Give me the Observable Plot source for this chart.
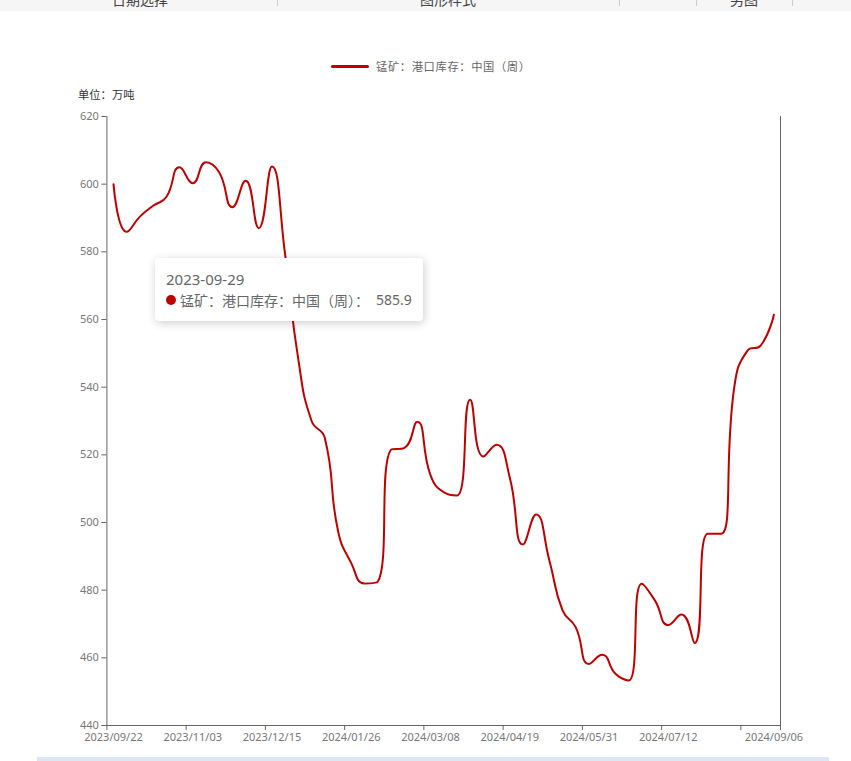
<!DOCTYPE html>
<html>
<head>
<meta charset="utf-8">
<script src="https://cdn.jsdelivr.net/npm/d3@7"></script>
<script src="https://cdn.jsdelivr.net/npm/@observablehq/plot@0.6"></script>
<style>
  html, body { margin: 0; padding: 0; background: #fff; }
  #page { position: relative; width: 851px; height: 761px; overflow: hidden; font-family: "Noto Sans", "Noto Sans CJK SC", sans-serif; }
  #topbar { position: absolute; left: 0; top: 0; width: 851px; height: 10.5px; background: #f6f6f6; overflow: hidden; }
  .tab { position: absolute; top: -11px; font-size: 14px; color: #444; font-family: "Noto Sans CJK SC", sans-serif; white-space: nowrap; }
  .sep { position: absolute; top: 0; width: 1px; height: 6px; background: #c9ccd3; }
  #legend { position: absolute; top: 58px; left: 331px; height: 16px; display: flex; align-items: center; }
  #legend .icon { width: 38px; height: 3px; background: #c00000; border-radius: 2px; margin-right: 7px; }
  #legend .txt { font-size: 11.3px; letter-spacing: 0.6px; color: #666; font-family: "Noto Sans CJK SC", sans-serif; white-space: nowrap; }
  #unit { position: absolute; left: 78px; top: 86px; font-size: 11.3px; color: #333; font-family: "Noto Sans CJK SC", sans-serif; }
  #chart { position: absolute; left: 0; top: 100px; }
  #tooltip { position: absolute; left: 155px; top: 258px; width: 268px; height: 63px; background: #fff; border-radius: 4px; box-shadow: rgba(0,0,0,0.2) 1px 2px 10px; }
  #tooltip .title { position: absolute; left: 11px; top: 11px; font-size: 15px; color: #666; line-height: 20px; font-family: "Noto Sans", sans-serif; }
  #tooltip .row { position: absolute; left: 11px; top: 32px; font-size: 14px; color: #666; line-height: 20px; white-space: nowrap; display: flex; align-items: center; font-family: "Noto Sans CJK SC", sans-serif; }
  #tooltip .dot { width: 10px; height: 10px; border-radius: 5px; background: #c00000; margin-right: 4px; }
  #tooltip .val { margin-left: 7px; font-family: "Noto Sans", sans-serif; }
  #bottombar { position: absolute; left: 37px; top: 757px; width: 792px; height: 8px; background: #dfe6f3; }
</style>
</head>
<body>
<div id="page">
  <div id="topbar">
    <span class="tab" style="left:112px">日期选择</span>
    <div class="sep" style="left:277px"></div>
    <span class="tab" style="left:420px">图形样式</span>
    <div class="sep" style="left:619px"></div>
    <div class="sep" style="left:696px"></div>
    <span class="tab" style="left:730px">另图</span>
    <div class="sep" style="left:792px"></div>
  </div>
  <div id="legend"><div class="icon"></div><span class="txt" id="legendText"></span></div>
  <div id="unit">单位：万吨</div>
  <div id="chart"></div>
  <div id="tooltip"><div class="title" id="ttTitle"></div><div class="row"><div class="dot"></div><span id="ttText"></span><span class="val" id="ttVal"></span></div></div>
  <div id="bottombar"></div>
</div>
<script>
// ---- data ----
const seriesName = "锰矿：港口库存：中国（周）";
const dates = [
  "2023/09/22","2023/09/29","2023/10/06","2023/10/13","2023/10/20","2023/10/27",
  "2023/11/03","2023/11/10","2023/11/17","2023/11/24","2023/12/01","2023/12/08",
  "2023/12/15","2023/12/22","2023/12/29","2024/01/05","2024/01/12","2024/01/19",
  "2024/01/26","2024/02/02","2024/02/09","2024/02/16","2024/02/23","2024/03/01",
  "2024/03/08","2024/03/15","2024/03/22","2024/03/29","2024/04/05","2024/04/12",
  "2024/04/19","2024/04/26","2024/05/03","2024/05/10","2024/05/17","2024/05/24",
  "2024/05/31","2024/06/07","2024/06/14","2024/06/21","2024/06/28","2024/07/05",
  "2024/07/12","2024/07/19","2024/07/26","2024/08/02","2024/08/09","2024/08/16",
  "2024/08/23","2024/08/30","2024/09/06"
];
const values = [
  600.0, 585.9, 590.4, 593.6, 596.2, 605.0,
  600.3, 606.5, 603.5, 593.2, 601.0, 587.0,
  605.2, 579.0, 548.0, 530.0, 525.0, 497.5,
  488.0, 482.0, 482.5, 521.5, 522.0, 529.8,
  514.0, 509.0, 508.0, 536.3, 519.5, 523.0,
  513.3, 493.5, 502.4, 488.8, 474.0, 469.0,
  458.2, 460.9, 455.3, 453.3, 481.9, 476.9,
  469.7, 472.8, 464.4, 496.7, 496.7, 540.0,
  550.8, 552.3, 561.4
];
const xLabelDates = ["2023/09/22","2023/11/03","2023/12/15","2024/01/26","2024/03/08","2024/04/19","2024/05/31","2024/07/12","2024/09/06"];
const xTickDates = ["2023/09/22","2023/11/03","2023/12/15","2024/01/26","2024/03/08","2024/04/19","2024/05/31","2024/07/12","2024/08/23"];
const yTicks = [440, 460, 480, 500, 520, 540, 560, 580, 600, 620];
const tooltipIndex = 1;

// ---- echarts-like smooth curve (smooth = 0.5) ----
function EchartsSmooth(context) { this._context = context; }
EchartsSmooth.prototype = {
  areaStart() {}, areaEnd() {},
  lineStart() { this._xs = []; this._ys = []; },
  point(x, y) { this._xs.push(+x); this._ys.push(+y); },
  lineEnd() {
    const xs = this._xs, ys = this._ys, n = xs.length, ctx = this._context, smooth = 0.5;
    const mn = Math.min, mx = Math.max;
    let prevX, prevY, cpx0, cpy0, cpx1, cpy1;
    for (let i = 0; i < n; i++) {
      const x = xs[i], y = ys[i];
      if (i === 0) { ctx.moveTo(x, y); cpx0 = x; cpy0 = y; }
      else {
        let nextCpx0, nextCpy0;
        if (i === n - 1) { cpx1 = x; cpy1 = y; }
        else {
          const nextX = xs[i + 1], nextY = ys[i + 1];
          let vx = nextX - prevX, vy = nextY - prevY;
          const dx0 = x - prevX, dx1 = nextX - x, dy0 = y - prevY, dy1 = nextY - y;
          const lenPrev = Math.sqrt(dx0 * dx0 + dy0 * dy0);
          const lenNext = Math.sqrt(dx1 * dx1 + dy1 * dy1);
          const ratio = lenNext / (lenNext + lenPrev);
          cpx1 = x - vx * smooth * (1 - ratio);
          cpy1 = y - vy * smooth * (1 - ratio);
          nextCpx0 = x + vx * smooth * ratio;
          nextCpy0 = y + vy * smooth * ratio;
          nextCpx0 = mn(nextCpx0, mx(nextX, x));
          nextCpy0 = mn(nextCpy0, mx(nextY, y));
          nextCpx0 = mx(nextCpx0, mn(nextX, x));
          nextCpy0 = mx(nextCpy0, mn(nextY, y));
          vx = nextCpx0 - x; vy = nextCpy0 - y;
          cpx1 = x - vx * lenPrev / lenNext;
          cpy1 = y - vy * lenPrev / lenNext;
          cpx1 = mn(cpx1, mx(prevX, x));
          cpy1 = mn(cpy1, mx(prevY, y));
          cpx1 = mx(cpx1, mn(prevX, x));
          cpy1 = mx(cpy1, mn(prevY, y));
          vx = x - cpx1; vy = y - cpy1;
          nextCpx0 = x + vx * lenNext / lenPrev;
          nextCpy0 = y + vy * lenNext / lenPrev;
        }
        ctx.bezierCurveTo(cpx0, cpy0, cpx1, cpy1, x, y);
        cpx0 = nextCpx0; cpy0 = nextCpy0;
      }
      prevX = x; prevY = y;
    }
  }
};
const echartsCurve = (context) => new EchartsSmooth(context);

// ---- build ----
const data = dates.map((d, i) => ({i, date: d, value: values[i]}));
const x0 = -0.5, x1 = dates.length - 0.5;
const labelIdx = xLabelDates.map(d => dates.indexOf(d));
const tickPos = xTickDates.map(d => dates.indexOf(d) - 0.5).concat([x1]);
const yMin = yTicks[0], yMax = yTicks[yTicks.length - 1];

const chart = Plot.plot({
  width: 851,
  height: 661,
  marginLeft: 106.4,
  marginRight: 71,
  marginTop: 16,
  marginBottom: 36,
  style: {fontFamily: "'Noto Sans', sans-serif", fontSize: "11px", background: "transparent", overflow: "visible"},
  x: {type: "linear", domain: [x0, x1], axis: null},
  y: {domain: [yMin, yMax], axis: null},
  marks: [
    Plot.ruleX([x0, x1], {y1: yMin, y2: yMax, stroke: "#666", strokeWidth: 1}),
    Plot.ruleY([yMin], {x1: x0, x2: x1, stroke: "#666", strokeWidth: 1}),
    Plot.axisY({ticks: yTicks, tickSize: 5, tickPadding: 3, stroke: "#666", fill: "#777", fontSize: 11, label: null, tickFormat: d => String(d)}),
    Plot.axisX({ticks: tickPos, tickSize: 5, stroke: "#666", tickFormat: () => "", label: null}),
    Plot.axisX({ticks: labelIdx, tickSize: 0, tickPadding: 8, fill: "#777", fontSize: 11, label: null, tickFormat: i => dates[Math.round(i)]}),
    Plot.line(data, {x: "i", y: "value", stroke: "#c00000", strokeWidth: 2, curve: echartsCurve})
  ]
});
document.getElementById("chart").appendChild(chart);
document.getElementById("legendText").textContent = seriesName;
document.getElementById("ttTitle").textContent = dates[tooltipIndex].replace(/\//g, "-");
document.getElementById("ttText").textContent = seriesName + "：";
document.getElementById("ttVal").textContent = values[tooltipIndex].toFixed(1);
</script>
</body>
</html>
